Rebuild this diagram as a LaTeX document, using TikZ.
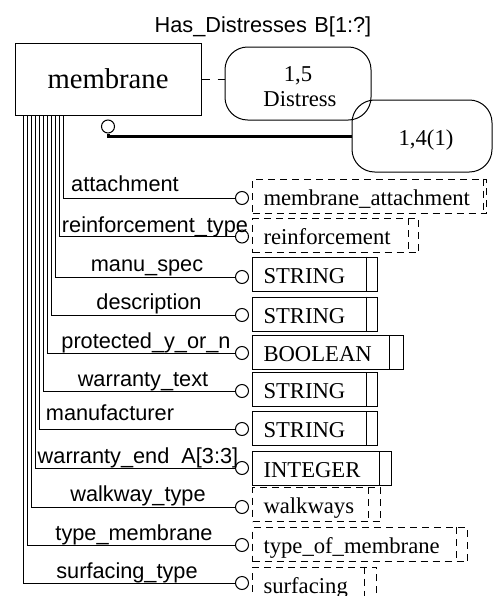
\documentclass[tikz,border=0pt]{standalone}
\usepackage{fontspec}
\setmainfont{Liberation Serif}
\newfontfamily\lblsans{Liberation Sans}
\newcommand\lblfont{\lblsans\fontsize{16.3}{19}\selectfont}
\newcommand\typfont{\fontsize{17}{19}\selectfont}

\begin{document}
\begin{tikzpicture}[x=0.75pt,y=0.75pt,yscale=-1,xscale=1,line width=0.75pt,
  lbl/.style={anchor=base,inner sep=0.75pt,font=\lblfont},
  ring/.style={draw,circle,inner sep=0pt,minimum size=9.75pt,fill=white},
  typebox/.style={draw,anchor=west,minimum height=25.5pt,inner xsep=8.25pt,inner ysep=0pt,text height=14pt,text depth=0pt,align=left,font=\typfont},
  defbox/.style={typebox,dash pattern=on 5.25pt off 3.75pt},
  defline/.style={dash pattern=on 5.25pt off 3.75pt},
  pill/.style={draw,rounded corners=17pt,inner sep=0pt}]
%set diagram size
\useasboundingbox (0,0) rectangle (493,596);

% Text Node
\node[lbl] (title) at (263,32) {Has\_Distresses\hspace{0.35em}B[1:?]};

%Shape: Rectangle
\node[draw,minimum width=139.5pt,minimum height=54pt,inner sep=0pt,font=\fontsize{21.5}{25}\selectfont] (membrane) at (108,79) {membrane};
%Shape: Rounded Rect
\node[pill,minimum width=109.5pt,minimum height=54.75pt] (dist) at (298,83.5) {};
%Shape: Rounded Rect
\node[pill,minimum width=105pt,minimum height=54pt] (inv) at (422,136) {};
% Text Node
\node[anchor=base,inner sep=0.75pt,font=\typfont] (dist1) at (298,81.5) {1,5};
% Text Node
\node[anchor=base,inner sep=0.75pt,font=\typfont] (dist2) at (300,106.5) {Distress};
% Text Node
\node[anchor=base,inner sep=0.75pt,font=\typfont] (inv1) at (426,145) {1,4(1)};

%Straight Lines
\draw[dash pattern=on 6pt off 6pt] (membrane.east) -- (membrane.east -| dist.west);
%Straight Lines
\node[ring] (o0) at (108,126.5) {};
\draw[line width=2.25pt] (o0) |- (inv);

%Straight Lines
\node[ring] (o1) at (242,198) {};
\draw (membrane.south west) ++(49,0) |- (o1);
\node[defbox,text width=159pt] (t1) at (252,196) {membrane\_attachment};
\draw[defline] ([xshift=-3pt]t1.north east) -- ([xshift=-3pt]t1.south east);
%Straight Lines
\node[ring] (o2) at (242,236.5) {};
\draw (membrane.south west) ++(45,0) |- (o2);
\node[defbox,text width=108pt] (t2) at (252,235.5) {reinforcement};
\draw[defline] ([xshift=-8.25pt]t2.north east) -- ([xshift=-8.25pt]t2.south east);
%Straight Lines
\node[ring] (o3) at (242,277) {};
\draw (membrane.south west) ++(41,0) |- (o3);
\node[typebox,text width=77.25pt] (t3) at (252,274) {STRING};
\draw ([xshift=-9pt]t3.north east) -- ([xshift=-9pt]t3.south east);
%Straight Lines
\node[ring] (o4) at (242,315) {};
\draw (membrane.south west) ++(37,0) |- (o4);
\node[typebox,text width=77.25pt] (t4) at (252,314) {STRING};
\draw ([xshift=-9pt]t4.north east) -- ([xshift=-9pt]t4.south east);
%Straight Lines
\node[ring] (o5) at (242,353) {};
\draw (membrane.south west) ++(33,0) |- (o5);
\node[typebox,text width=96.75pt] (t5) at (252,352.5) {BOOLEAN};
\draw ([xshift=-11.25pt]t5.north east) -- ([xshift=-11.25pt]t5.south east);
%Straight Lines
\node[ring] (o6) at (242,391) {};
\draw (membrane.south west) ++(29,0) |- (o6);
\node[typebox,text width=77.25pt] (t6) at (252,389.5) {STRING};
\draw ([xshift=-9pt]t6.north east) -- ([xshift=-9pt]t6.south east);
%Straight Lines
\node[ring] (o7) at (242,429) {};
\draw (membrane.south west) ++(25,0) |- (o7);
\node[typebox,text width=77.25pt] (t7) at (252,428.5) {STRING};
\draw ([xshift=-9pt]t7.north east) -- ([xshift=-9pt]t7.south east);
%Straight Lines
\node[ring] (o8) at (242,468) {};
\draw (membrane.south west) ++(21,0) |- (o8);
\node[typebox,text width=87.75pt] (t8) at (252,468.5) {INTEGER};
\draw ([xshift=-9.75pt]t8.north east) -- ([xshift=-9.75pt]t8.south east);
%Straight Lines
\node[ring] (o9) at (242,507) {};
\draw (membrane.south west) ++(17,0) |- (o9);
\node[defbox,text width=79.5pt] (t9) at (252,504.5) {walkways};
\draw[defline] ([xshift=-9.75pt]t9.north east) -- ([xshift=-9.75pt]t9.south east);
%Straight Lines
\node[ring] (o10) at (242,545) {};
\draw (membrane.south west) ++(13,0) |- (o10);
\node[defbox,text width=144.75pt] (t10) at (252,544.5) {type\_of\_membrane};
\draw[defline] ([xshift=-9pt]t10.north east) -- ([xshift=-9pt]t10.south east);
%Straight Lines
\node[ring] (o11) at (242,583) {};
\draw (membrane.south west) ++(9,0) |- (o11);
\node[defbox,text width=76.5pt] (t11) at (252,584) {surfacing};
\draw[defline] ([xshift=-9.75pt]t11.north east) -- ([xshift=-9.75pt]t11.south east);

% Text Node
\node[lbl] (l1) at (125,191) {attachment};
% Text Node
\node[lbl] (l2) at (155,232.5) {reinforcement\_type};
% Text Node
\node[lbl] (l3) at (147,271) {manu\_spec};
% Text Node
\node[lbl] (l4) at (149,309) {description};
% Text Node
\node[lbl] (l5) at (146,348) {protected\_y\_or\_n};
% Text Node
\node[lbl] (l6) at (143,386) {warranty\_text};
% Text Node
\node[lbl] (l7) at (110,420) {manufacturer};
% Text Node
\node[lbl] (l8) at (138,463) {warranty\_end\ \ A[3:3]};
% Text Node
\node[lbl] (l9) at (138,501.5) {walkway\_type};
% Text Node
\node[lbl] (l10) at (134,540) {type\_membrane};
% Text Node
\node[lbl] (l11) at (127,578) {surfacing\_type};

\end{tikzpicture}
\end{document}
